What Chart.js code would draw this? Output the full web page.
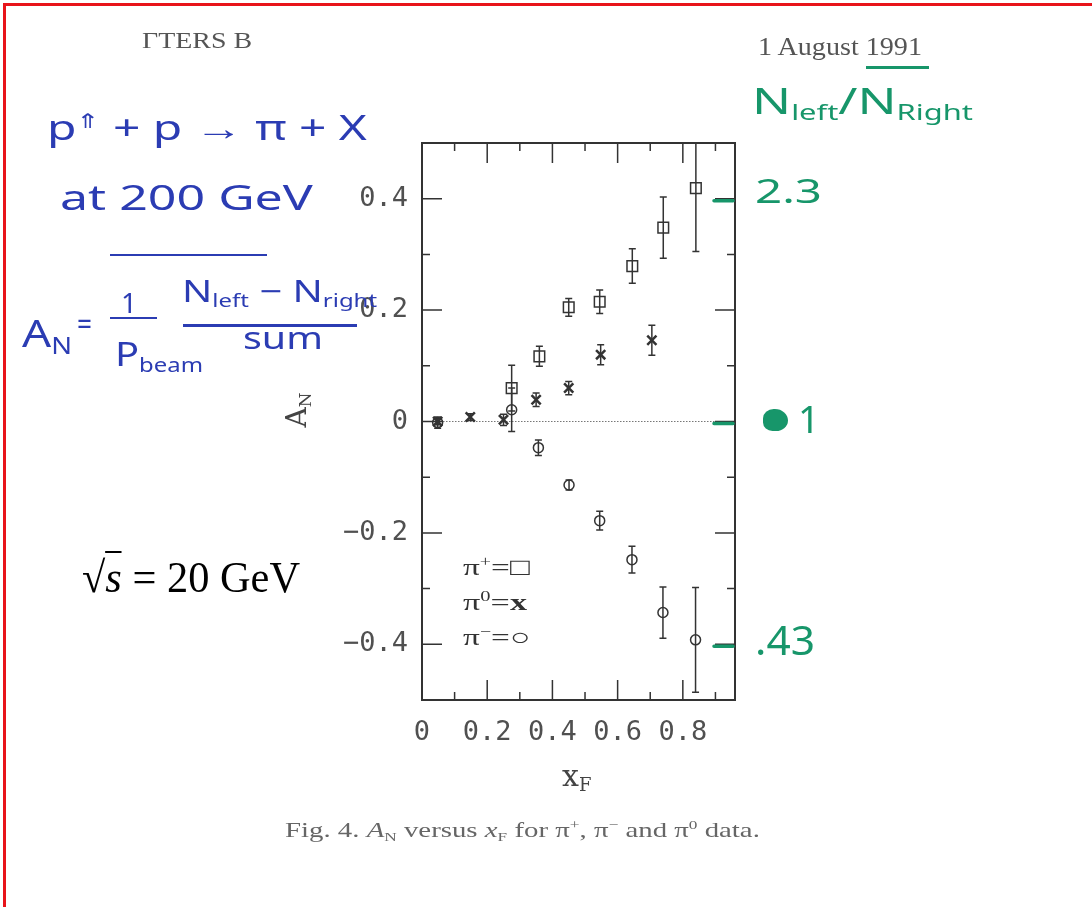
<!DOCTYPE html>
<html>
<head>
<meta charset="utf-8">
<script src="https://cdn.jsdelivr.net/npm/chart.js@4.4.1/dist/chart.umd.min.js"></script>
<style>
  body { margin: 0; background: #fff; }
  #page { position: relative; width: 1092px; height: 907px; overflow: hidden; background: #fff; }
  #page canvas { position: absolute; left: 0; top: 0; }
  .t { position: absolute; white-space: nowrap; line-height: 1; transform-origin: 0 0; }
  .t sub, .t sup { font-size: 0.6em; line-height: 0; }
  .t sub { vertical-align: -0.3em; }
  .t sup { vertical-align: 0.6em; }
  .print { font-family: "Liberation Serif", serif; color: #555; }
  .tex { font-family: "DejaVu Serif", serif; color: #444; }
  .blue { font-family: "Noto Sans", sans-serif; color: #2b3cb3; }
  .green { font-family: "Noto Sans", sans-serif; color: #17966a; }
  .rule { position: absolute; }
</style>
</head>
<body>
<div id="page">
  <canvas id="chart" width="1092" height="907"></canvas>

  <div class="rule" style="left:3px;top:3px;width:1089px;height:3px;background:#e8141a"></div>
  <div class="rule" style="left:3px;top:3px;width:3px;height:904px;background:#e8141a"></div>

  <div class="t print" style="left:142px;top:29px;font-size:23px" data-w="110">ΓTERS B</div>
  <div class="t print" style="left:758px;top:34px;font-size:25px" data-w="164">1 August 1991</div>
  <div class="rule" style="left:866px;top:66px;width:63px;height:3px;background:#17966a"></div>

  <div class="t green" style="left:752px;top:83px;font-size:36px" data-w="221">N<sub>left</sub>/N<sub>Right</sub></div>
  <div class="t green" style="left:755px;top:175px;font-size:32px" data-w="67">2.3</div>
  <div class="rule" style="left:763px;top:409px;width:25px;height:22px;background:#17966a;border-radius:45% 55% 50% 40%"></div>
  <div class="t green" style="left:798px;top:399px;font-size:38px">1</div>
  <div class="t green" style="left:755px;top:620px;font-size:40px" data-w="60">.43</div>

  <div class="t blue" style="left:47px;top:110px;font-size:34px" data-w="320">p<sup>⇑</sup> + p → π + X</div>
  <div class="t blue" style="left:60px;top:180px;font-size:34px" data-w="253">at 200 GeV</div>
  <div class="rule" style="left:110px;top:254px;width:157px;height:2px;background:#2b3cb3"></div>

  <div class="t blue" style="left:22px;top:313px;font-size:38px" data-w="50">A<sub>N</sub></div>
  <div class="t blue" style="left:77px;top:309px;font-size:30px" data-w="15">=</div>
  <div class="t blue" style="left:121px;top:288px;font-size:28px">1</div>
  <div class="rule" style="left:110px;top:317px;width:47px;height:2px;background:#2b3cb3"></div>
  <div class="t blue" style="left:115px;top:338px;font-size:32px" data-w="88">P<sub>beam</sub></div>
  <div class="t blue" style="left:182px;top:276px;font-size:30px" data-w="195">N<sub>left</sub> − N<sub>right</sub></div>
  <div class="rule" style="left:183px;top:324px;width:174px;height:3px;background:#2b3cb3"></div>
  <div class="t blue" style="left:243px;top:323px;font-size:30px" data-w="80">sum</div>

  <div class="t" style="left:82px;top:556px;font-size:44px;font-family:'Liberation Serif',serif;color:#000" data-w="218">√<span style="font-style:italic;border-top:2px solid #000">s</span> = 20 GeV</div>

  <div class="t print" style="left:463px;top:555px;font-size:24px;color:#333" data-w="67">π<sup>+</sup>=□</div>
  <div class="t print" style="left:463px;top:590px;font-size:24px;color:#333" data-w="64">π<sup>0</sup>=<b>x</b></div>
  <div class="t print" style="left:463px;top:625px;font-size:24px;color:#333" data-w="67">π<sup>−</sup>=○</div>

  <div class="t tex" style="left:268px;top:395px;width:60px;height:30px;text-align:center;font-size:28px;transform-origin:50% 50%;transform:rotate(-90deg)">A<sub>N</sub></div>
  <div class="t tex" style="left:562px;top:761px;font-size:30px">x<sub>F</sub></div>

  <div class="t print" style="left:285px;top:820px;font-size:21px;color:#666" data-w="475">Fig. 4. <i>A</i><sub>N</sub> versus <i>x</i><sub>F</sub> for π<sup>+</sup>, π<sup>−</sup> and π<sup>0</sup> data.</div>
</div>

<script>
// x_F values, A_N values and their errors
const piPlusX = [0.275, 0.36, 0.45, 0.545, 0.645, 0.74, 0.84];
const piPlusY = [0.060, 0.117, 0.205, 0.215, 0.279, 0.348, 0.419];
const piPlusErr = [0.041, 0.018, 0.016, 0.021, 0.031, 0.055, 0.114];

const piZeroX = [0.048, 0.148, 0.25, 0.35, 0.45, 0.548, 0.705];
const piZeroY = [0.0, 0.008, 0.003, 0.039, 0.060, 0.120, 0.146];
const piZeroErr = [0.006, 0.006, 0.010, 0.012, 0.012, 0.018, 0.027];

const piMinusX = [0.048, 0.275, 0.357, 0.451, 0.545, 0.644, 0.739, 0.839];
const piMinusY = [-0.002, 0.021, -0.047, -0.114, -0.178, -0.248, -0.343, -0.392];
const piMinusErr = [0.010, 0.039, 0.014, 0.009, 0.017, 0.024, 0.046, 0.094];

const xTickValues = [0, 0.2, 0.4, 0.6, 0.8];
const xTickLabels = ['0', '0.2', '0.4', '0.6', '0.8'];
const xMinorTicks = [0.1, 0.3, 0.5, 0.7, 0.9];
const yTickValues = [-0.4, -0.2, 0, 0.2, 0.4];
const yTickLabels = ['\u22120.4', '\u22120.2', '0', '0.2', '0.4'];
const yMinorTicks = [-0.3, -0.1, 0.1, 0.3];

// green pen marks on the right edge
const penMarks = [0.4, 0, -0.4];

function points(xs, ys, errs) {
    return xs.map((x, i) => ({ x: x, y: ys[i], err: errs[i] }));
}

const ink = '#333';

const paperFrame = {
    id: 'paperFrame',
    beforeDatasetsDraw(chart) {
        const { ctx, chartArea: a, scales: { x, y } } = chart;
        ctx.save();
        // dotted zero line
        const y0 = y.getPixelForValue(0);
        ctx.strokeStyle = '#777';
        ctx.lineWidth = 1.2;
        ctx.setLineDash([1.5, 1.5]);
        ctx.beginPath();
        ctx.moveTo(a.left, y0);
        ctx.lineTo(a.right, y0);
        ctx.stroke();
        ctx.setLineDash([]);

        // error bars
        ctx.strokeStyle = ink;
        ctx.lineWidth = 1.5;
        chart.data.datasets.forEach((ds, i) => {
            const meta = chart.getDatasetMeta(i);
            ds.data.forEach((p, j) => {
                const px = meta.data[j].x;
                const hi = y.getPixelForValue(p.y + p.err);
                const lo = y.getPixelForValue(p.y - p.err);
                const top = Math.max(hi, a.top);
                const bot = Math.min(lo, a.bottom);
                ctx.beginPath();
                ctx.moveTo(px, top);
                ctx.lineTo(px, bot);
                if (hi >= a.top) { ctx.moveTo(px - 3.5, hi); ctx.lineTo(px + 3.5, hi); }
                if (lo <= a.bottom) { ctx.moveTo(px - 3.5, lo); ctx.lineTo(px + 3.5, lo); }
                ctx.stroke();
            });
        });
        ctx.restore();
    },
    afterDraw(chart) {
        const { ctx, chartArea: a, scales: { x, y } } = chart;
        ctx.save();
        ctx.strokeStyle = ink;
        ctx.lineWidth = 2;
        ctx.strokeRect(a.left, a.top, a.right - a.left, a.bottom - a.top);

        ctx.lineWidth = 1.5;
        ctx.beginPath();
        const yTick = (v, len) => {
            const py = y.getPixelForValue(v);
            ctx.moveTo(a.left, py); ctx.lineTo(a.left + len, py);
            ctx.moveTo(a.right, py); ctx.lineTo(a.right - len, py);
        };
        const xTick = (v, len) => {
            const px = x.getPixelForValue(v);
            ctx.moveTo(px, a.bottom); ctx.lineTo(px, a.bottom - len);
            ctx.moveTo(px, a.top); ctx.lineTo(px, a.top + len);
        };
        yTickValues.forEach(v => yTick(v, 20));
        yMinorTicks.forEach(v => yTick(v, 8));
        xTickValues.forEach(v => xTick(v, 20));
        xMinorTicks.forEach(v => xTick(v, 8));
        ctx.stroke();

        // pen marks
        ctx.strokeStyle = '#17966a';
        ctx.lineWidth = 3.5;
        ctx.lineCap = 'round';
        ctx.beginPath();
        penMarks.forEach(v => {
            const py = y.getPixelForValue(v) + 2;
            ctx.moveTo(a.right - 21, py);
            ctx.lineTo(a.right - 2, py);
        });
        ctx.stroke();
        ctx.restore();
    }
};

const tickFont = { family: '"DejaVu Sans Mono", monospace', size: 27 };

const chart = new Chart(document.getElementById('chart'), {
    type: 'scatter',
    data: {
        datasets: [{
            label: '\u03c0+',
            data: points(piPlusX, piPlusY, piPlusErr),
            pointStyle: 'rect',
            pointRadius: 7.5,
            borderColor: ink,
            backgroundColor: 'rgba(0,0,0,0)',
            borderWidth: 1.5
        }, {
            label: '\u03c00',
            data: points(piZeroX, piZeroY, piZeroErr),
            pointStyle: 'crossRot',
            pointRadius: 6.5,
            borderColor: ink,
            backgroundColor: 'rgba(0,0,0,0)',
            borderWidth: 2.5
        }, {
            label: '\u03c0\u2212',
            data: points(piMinusX, piMinusY, piMinusErr),
            pointStyle: 'circle',
            pointRadius: 5,
            borderColor: ink,
            backgroundColor: 'rgba(0,0,0,0)',
            borderWidth: 1.5
        }]
    },
    options: {
        responsive: false,
        animation: false,
        events: [],
        layout: { padding: { left: 0, top: 143, right: 357, bottom: 0 } },
        plugins: { legend: { display: false }, tooltip: { enabled: false } },
        scales: {
            x: {
                type: 'linear',
                min: 0,
                max: 0.96,
                grid: { display: false, drawTicks: false },
                border: { display: false },
                afterFit: s => { s.height = 207; },
                afterBuildTicks: s => { s.ticks = xTickValues.map(v => ({ value: v })); },
                ticks: {
                    callback: (v, i) => xTickLabels[i],
                    font: tickFont,
                    color: '#505050',
                    padding: 17,
                    maxRotation: 0,
                    autoSkip: false
                }
            },
            y: {
                type: 'linear',
                min: -0.5,
                max: 0.5,
                grid: { display: false, drawTicks: false },
                border: { display: false },
                afterFit: s => { s.width = 422; },
                afterBuildTicks: s => { s.ticks = yTickValues.map(v => ({ value: v })); },
                ticks: {
                    callback: (v, i) => yTickLabels[i],
                    font: tickFont,
                    color: '#505050',
                    padding: 14,
                    autoSkip: false
                }
            }
        }
    },
    plugins: [paperFrame]
});

// squeeze or stretch annotation text to the width it has on the page
document.querySelectorAll('[data-w]').forEach(el => {
    const w = el.getBoundingClientRect().width;
    const target = +el.dataset.w;
    if (w > 0) el.style.transform = 'scaleX(' + (target / w).toFixed(3) + ')';
});
</script>
</body>
</html>
